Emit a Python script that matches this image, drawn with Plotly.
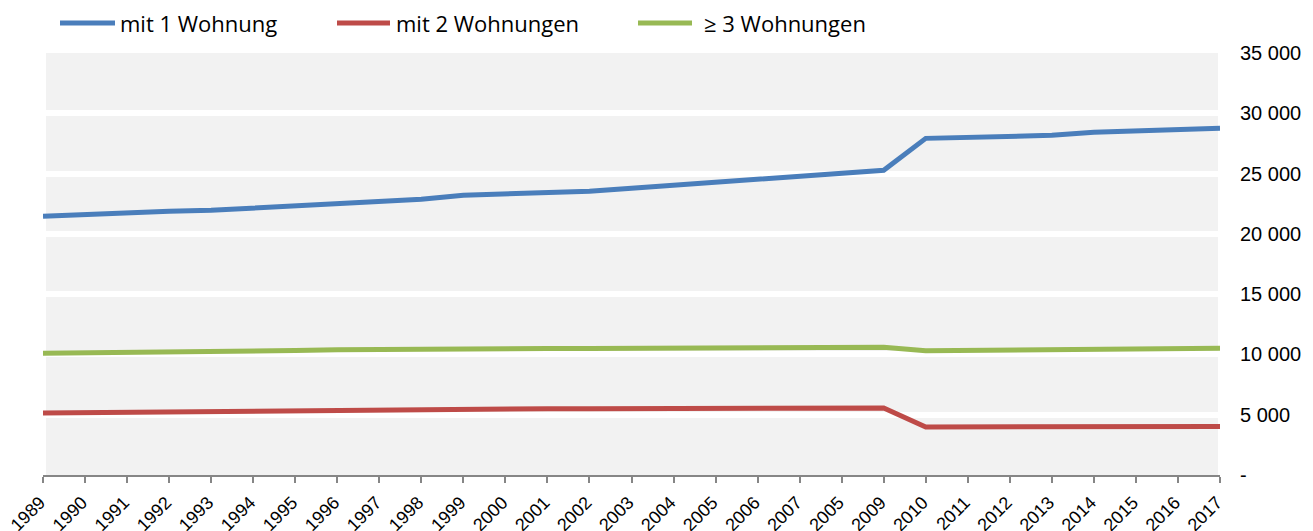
import plotly.graph_objects as go

years = ["1989", "1990", "1991", "1992", "1993", "1994", "1995", "1996", "1997", "1998",
         "1999", "2000", "2001", "2002", "2003", "2004", "2005", "2006", "2007", "2005",
         "2009", "2010", "2011", "2012", "2013", "2014", "2015", "2016", "2017"]

series_names = ["mit 1 Wohnung", "mit 2 Wohnungen", "\u2265 3 Wohnungen"]

mit1 = [21460, 21620, 21790, 21870, 21950, 22120, 22290, 22530, 22700, 22870,
        23200, 23280, 23360, 23530, 23780, 24030, 24270, 24600, 24850, 25100,
        25270, 27920, 28000, 28170, 28170, 28420, 28500, 28670, 28750]

mit2 = [5150, 5180, 5220, 5270, 5300, 5350, 5400, 5420, 5430, 5450,
        5480, 5500, 5500, 5500, 5520, 5520, 5530, 5530, 5540, 5540,
        5550, 3980, 3980, 3990, 4000, 4000, 4010, 4020, 4030]

mit3 = [10100, 10120, 10150, 10170, 10200, 10250, 10320, 10380, 10420, 10470,
        10480, 10500, 10500, 10500, 10510, 10520, 10530, 10550, 10560, 10570,
        10600, 10300, 10330, 10360, 10400, 10430, 10450, 10480, 10520]

y_tickvals = [0, 5000, 10000, 15000, 20000, 25000, 30000, 35000]
y_ticktext = ["-", "5 000", "10 000", "15 000", "20 000", "25 000", "30 000", "35 000"]

colors = ["#4A7EBB", "#BE4B48", "#98B954"]

x_idx = list(range(len(years)))

fig = go.Figure()
for name, vals, col in zip(series_names, [mit1, mit2, mit3], colors):
    fig.add_trace(go.Scatter(x=x_idx, y=vals, mode="lines", name=name,
                             line=dict(color=col, width=5), showlegend=False))

# plot geometry in pixels
W, H = 1313, 531
L, R, T, B = 43, 1220, 53, 475


def px_x(p):
    return (p - L) / (R - L)


def px_y(p):
    return (B - p) / (B - T)


shapes = [
    dict(type="rect", xref="paper", yref="paper", x0=px_x(46), x1=px_x(1218),
         y0=0, y1=1, fillcolor="#F2F2F2", line=dict(width=0), layer="below"),
]
annotations = []
legend_pos = [(60, 115, 118), (337, 390, 394), (638, 692, 702)]
for (lx0, lx1, tx), name, col in zip(legend_pos, series_names, colors):
    shapes.append(dict(type="line", xref="paper", yref="paper",
                       x0=px_x(lx0), x1=px_x(lx1), y0=px_y(23), y1=px_y(23),
                       line=dict(color=col, width=5)))
    annotations.append(dict(text=name, xref="paper", yref="paper", x=px_x(tx), y=px_y(23),
                            xanchor="left", yanchor="middle", showarrow=False,
                            font=dict(family="Open Sans", size=22, color="#000000")))

fig.update_layout(
    width=W, height=H,
    margin=dict(l=L, r=W - R, t=T, b=H - B, autoexpand=False),
    paper_bgcolor="white",
    plot_bgcolor="white",
    shapes=shapes,
    annotations=annotations,
    showlegend=False,
    xaxis=dict(
        range=[0, len(years) - 1],
        tickvals=x_idx, ticktext=years, tickangle=-45,
        tickfont=dict(family="Liberation Sans, Arial", size=18, color="#000000"),
        showgrid=False, zeroline=False,
        showline=True, linecolor="#868686", linewidth=2,
        ticks="outside", ticklen=6, tickwidth=2, tickcolor="#868686",
        ticklabelstandoff=2, ticklabelshift=-3,
        automargin=False,
    ),
    yaxis=dict(
        range=[0, 35000], side="right",
        tickvals=y_tickvals, ticktext=y_ticktext,
        tickfont=dict(family="Liberation Sans, Arial", size=20, color="#000000"),
        showgrid=True, gridcolor="#FFFFFF", gridwidth=6,
        zeroline=False, showline=False, ticks="",
        ticklabelstandoff=19,
        automargin=False,
    ),
)

fig.write_html("out.html", config={"displayModeBar": False},
               post_script="document.body.style.margin='0';document.body.style.overflow='hidden';")
